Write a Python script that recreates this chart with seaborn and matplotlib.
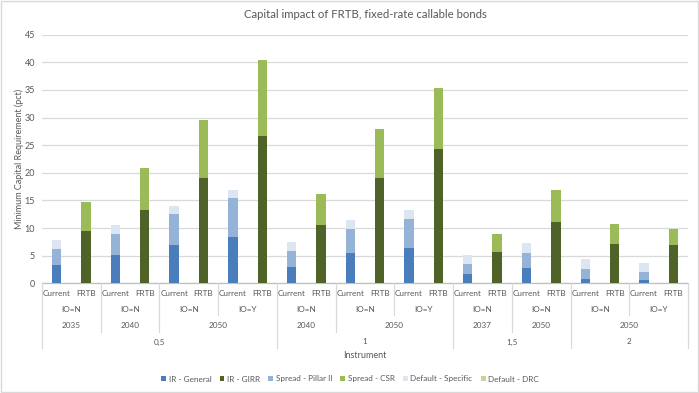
import numpy as np
import pandas as pd
import matplotlib
matplotlib.use('Agg')
import matplotlib.pyplot as plt
import matplotlib.transforms as mtransforms
from matplotlib.patches import Patch, Rectangle
from matplotlib.lines import Line2D
import seaborn as sns

# bar labels (22 bars: Current / FRTB pairs)
kind = ['Current', 'FRTB'] * 11
io_flag = ['IO=N', 'IO=N', 'IO=N', 'IO=Y', 'IO=N', 'IO=N', 'IO=Y',
           'IO=N', 'IO=N', 'IO=N', 'IO=Y']
years = ['2035', '2040', '2050', '2040', '2050', '2037', '2050', '2050']
year_pairs = [1, 1, 2, 1, 2, 1, 1, 2]          # IO-pairs per year group
maturity = ['0,5', '1', '1,5', '2']
maturity_years = [3, 2, 2, 1]                 # year groups per maturity

# series values (pct), one per bar
ir_general = [3.4, 0, 5.1, 0, 7.0, 0, 8.4, 0, 2.9, 0, 5.4, 0, 6.3, 0,
              1.7, 0, 2.7, 0, 0.8, 0, 0.6, 0]
ir_girr = [0, 9.45, 0, 13.2, 0, 19.1, 0, 26.6, 0, 10.5, 0, 19.1, 0, 24.3,
           0, 5.65, 0, 11.1, 0, 7.15, 0, 6.85]
spread_pillar2 = [2.85, 0, 3.85, 0, 5.5, 0, 6.95, 0, 2.95, 0, 4.45, 0, 5.4, 0,
                  1.8, 0, 2.8, 0, 1.85, 0, 1.5, 0]
spread_csr = [0, 5.35, 0, 7.6, 0, 10.5, 0, 13.8, 0, 5.65, 0, 8.9, 0, 11.1,
              0, 3.3, 0, 5.8, 0, 3.5, 0, 3.0]
default_specific = [1.6, 0, 1.55, 0, 1.5, 0, 1.5, 0, 1.6, 0, 1.6, 0, 1.5, 0,
                    1.6, 0, 1.75, 0, 1.7, 0, 1.65, 0]
default_drc = [0] * 22

series = ['IR - General', 'IR - GIRR', 'Spread - Pillar II', 'Spread - CSR',
          'Default - Specific', 'Default - DRC']
colors = ['#4A7EBB', '#4F6228', '#95B3D7', '#9BBB59', '#DCE6F2', '#C3D69B']

df = pd.DataFrame({'bar': range(22)})
for name, vals in zip(series, [ir_general, ir_girr, spread_pillar2,
                               spread_csr, default_specific, default_drc]):
    df[name] = vals
cum = df[series].cumsum(axis=1)

sns.set_style('white')
plt.rcParams['font.family'] = ['Lato', 'DejaVu Sans']
grey = '#595959'
fs = 5.9

fig = plt.figure(figsize=(6.99, 3.93), dpi=100)
ax = fig.add_axes([42 / 699, 1 - 283.3 / 393, 646 / 699, 248.6 / 393])

# stacked bars: draw cumulative totals from top layer down
for name, col in reversed(list(zip(series, colors))):
    sns.barplot(x=df['bar'], y=cum[name], color=col, width=0.32,
                linewidth=0, saturation=1, ax=ax, zorder=3)

ax.set_xlim(-0.5, 21.5)
ax.set_ylim(0, 45)
ax.set_yticks(range(0, 46, 5))
ax.yaxis.grid(True, color='#D9D9D9', linewidth=0.9)
ax.set_axisbelow(True)
ax.set_xticks([])
ax.set_xlabel('')
ax.set_ylabel('Minimum Capital Requirement (pct)', fontsize=6.5, color=grey,
              labelpad=0.5)
ax.tick_params(axis='y', length=0, labelsize=6.5, labelcolor=grey, pad=5)
for s in ['top', 'right', 'left']:
    ax.spines[s].set_visible(False)
ax.spines['bottom'].set_color('#BFBFBF')
ax.spines['bottom'].set_linewidth(0.9)

# multi-level category axis
tr = mtransforms.blended_transform_factory(ax.transData, fig.transFigure)


def fy(p):
    return 1 - p / 393


for i, k in enumerate(kind):
    fig.text(i, fy(293.5), k, transform=tr, ha='center', va='center',
             fontsize=fs, color=grey)
for j, lab in enumerate(io_flag):
    fig.text(2 * j + 0.5, fy(310), lab, transform=tr, ha='center',
             va='center', fontsize=fs, color=grey)
start = 0
year_edges = []
for lab, n in zip(years, year_pairs):
    fig.text(start + n - 0.5, fy(326), lab, transform=tr, ha='center',
             va='center', fontsize=fs, color=grey)
    start += 2 * n
    year_edges.append(start - 0.5)
start = 0
yi = 0
mat_edges = [-0.5]
for lab, n in zip(maturity, maturity_years):
    width = 2 * sum(year_pairs[yi:yi + n])
    fig.text(start + width / 2 - 0.5, fy(342), lab, transform=tr,
             ha='center', va='center', fontsize=fs, color=grey)
    start += width
    yi += n
    mat_edges.append(start - 0.5)

io_edges = [2 * j + 1.5 for j in range(10)]
sep = '#D9D9D9'
for x in io_edges:
    if x in year_edges or x in mat_edges:
        continue
    fig.add_artist(Line2D([x, x], [fy(283.3), fy(315)], transform=tr,
                          color=sep, linewidth=0.9))
for x in year_edges:
    if x in mat_edges:
        continue
    fig.add_artist(Line2D([x, x], [fy(283.3), fy(332)], transform=tr,
                          color=sep, linewidth=0.9))
for x in mat_edges:
    fig.add_artist(Line2D([x, x], [fy(283.3), fy(347.5)], transform=tr,
                          color=sep, linewidth=0.9))

fig.text(365 / 699, fy(355), 'Instrument', ha='center', va='center',
         fontsize=6.5, color=grey)
fig.text(365 / 699, fy(14), 'Capital impact of FRTB, fixed-rate callable bonds',
         ha='center', va='center', fontsize=8.2, color=grey)

handles = [Patch(facecolor=c, edgecolor='none', label=s)
           for s, c in zip(series, colors)]
fig.legend(handles=handles, loc='center', bbox_to_anchor=(350 / 699, fy(379)),
           ncol=6, frameon=False, fontsize=fs, labelcolor=grey,
           handlelength=0.6, handleheight=0.6, handletextpad=0.3,
           columnspacing=1.0)

fig.add_artist(Rectangle((0.001, 0.002), 0.997, 0.996, transform=fig.transFigure,
                         fill=False, edgecolor='#D9D9D9', linewidth=1))

fig.savefig('out.png', dpi=100)
